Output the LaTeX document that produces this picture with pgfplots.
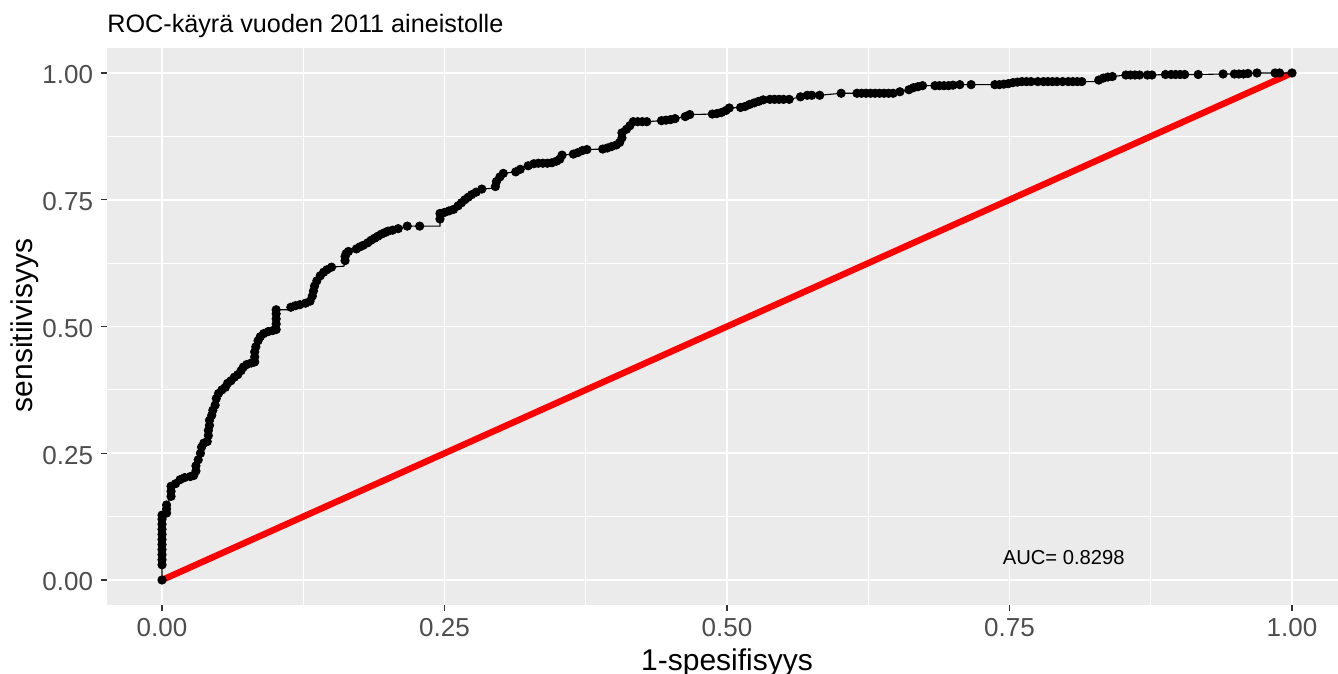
\documentclass[border=0pt]{standalone}
\usepackage{fontspec}
\setmainfont{Liberation Sans}
\usepackage{pgfplots}
\pgfplotsset{compat=1.18}
\usepackage{pgfplotstable}
\definecolor{panelbg}{HTML}{EBEBEB}
\definecolor{ticklab}{HTML}{4D4D4D}
\definecolor{tickcol}{HTML}{333333}
\pgfplotstableread{
x y m
0 0 1
0 0.03 1
0 0.04 1
0 0.05 1
0 0.06 1
0 0.07 1
0 0.08 1
0 0.09 1
0 0.10 1
0 0.11 1
0 0.12 1
0 0.128 1
0.004 0.132 1
0.004 0.14 1
0.004 0.148 1
0.008 0.165 1
0.008 0.175 1
0.008 0.185 1
0.012 0.19 1
0.016 0.198 1
0.020 0.202 1
0.025 0.204 1
0.028 0.206 1
0.030 0.215 1
0.030 0.225 1
0.032 0.237 1
0.034 0.250 1
0.035 0.262 1
0.037 0.270 1
0.040 0.273 1
0.041 0.285 1
0.041 0.295 1
0.042 0.305 1
0.042 0.315 1
0.044 0.325 1
0.045 0.335 1
0.047 0.345 1
0.048 0.358 1
0.050 0.368 1
0.053 0.375 1
0.056 0.380 1
0.058 0.388 1
0.061 0.393 1
0.064 0.400 1
0.067 0.405 1
0.070 0.413 1
0.072 0.420 1
0.075 0.425 1
0.079 0.428 1
0.082 0.430 1
0.082 0.440 1
0.082 0.450 1
0.083 0.460 1
0.085 0.472 1
0.087 0.480 1
0.090 0.486 1
0.094 0.490 1
0.098 0.492 1
0.101 0.494 1
0.101 0.505 1
0.101 0.515 1
0.101 0.525 1
0.101 0.533 1
0.114 0.533 0
0.114 0.538 1
0.118 0.541 1
0.122 0.543 1
0.127 0.546 1
0.131 0.550 1
0.133 0.560 1
0.134 0.570 1
0.135 0.580 1
0.137 0.590 1
0.140 0.600 1
0.143 0.607 1
0.146 0.612 1
0.150 0.617 1
0.161 0.619 0
0.162 0.630 1
0.162 0.638 1
0.163 0.644 1
0.165 0.648 1
0.172 0.653 1
0.175 0.657 1
0.178 0.660 1
0.182 0.665 1
0.185 0.670 1
0.188 0.674 1
0.191 0.678 1
0.194 0.682 1
0.197 0.685 1
0.200 0.688 1
0.204 0.690 1
0.209 0.693 1
0.217 0.698 1
0.228 0.698 1
0.246 0.698 0
0.246 0.712 1
0.246 0.723 1
0.250 0.725 1
0.254 0.728 1
0.258 0.731 1
0.262 0.738 1
0.265 0.744 1
0.268 0.750 1
0.271 0.755 1
0.274 0.760 1
0.278 0.765 1
0.283 0.771 1
0.294 0.773 0
0.295 0.776 1
0.296 0.786 1
0.299 0.795 1
0.302 0.802 1
0.313 0.805 1
0.317 0.810 1
0.324 0.817 1
0.329 0.821 1
0.333 0.822 1
0.337 0.822 1
0.341 0.822 1
0.345 0.823 1
0.349 0.826 1
0.352 0.830 1
0.354 0.838 1
0.364 0.840 1
0.368 0.843 1
0.372 0.847 1
0.376 0.849 1
0.390 0.850 1
0.394 0.852 1
0.398 0.855 1
0.402 0.858 1
0.405 0.863 1
0.407 0.872 1
0.407 0.882 1
0.411 0.889 1
0.414 0.896 1
0.417 0.904 1
0.421 0.904 1
0.425 0.904 1
0.429 0.904 1
0.442 0.906 1
0.446 0.907 1
0.450 0.908 1
0.454 0.910 1
0.463 0.914 1
0.467 0.918 1
0.487 0.919 1
0.491 0.920 1
0.495 0.922 1
0.499 0.926 1
0.502 0.931 1
0.512 0.932 1
0.516 0.934 1
0.520 0.938 1
0.524 0.941 1
0.528 0.944 1
0.532 0.947 1
0.538 0.948 1
0.542 0.948 1
0.546 0.948 1
0.550 0.948 1
0.555 0.948 1
0.565 0.953 1
0.571 0.956 1
0.575 0.956 1
0.582 0.956 1
0.601 0.960 1
0.615 0.960 1
0.619 0.960 1
0.623 0.960 1
0.627 0.960 1
0.631 0.960 1
0.635 0.960 1
0.639 0.960 1
0.643 0.960 1
0.647 0.960 1
0.653 0.963 1
0.661 0.967 1
0.665 0.971 1
0.669 0.973 1
0.673 0.975 1
0.684 0.975 1
0.688 0.975 1
0.692 0.975 1
0.696 0.975 1
0.700 0.976 1
0.706 0.977 1
0.716 0.977 1
0.737 0.977 1
0.741 0.977 1
0.745 0.978 1
0.749 0.979 1
0.753 0.981 1
0.757 0.982 1
0.761 0.983 1
0.765 0.983 1
0.769 0.983 1
0.775 0.983 1
0.780 0.983 1
0.784 0.983 1
0.788 0.983 1
0.792 0.983 1
0.797 0.983 1
0.802 0.983 1
0.806 0.983 1
0.810 0.983 1
0.814 0.983 1
0.828 0.983 0
0.829 0.986 1
0.833 0.990 1
0.837 0.992 1
0.841 0.993 1
0.853 0.996 1
0.857 0.996 1
0.861 0.996 1
0.865 0.996 1
0.872 0.996 1
0.876 0.996 1
0.888 0.997 1
0.893 0.997 1
0.897 0.997 1
0.901 0.997 1
0.905 0.997 1
0.917 0.997 1
0.939 0.998 1
0.949 0.998 1
0.953 0.998 1
0.957 0.998 1
0.961 0.999 1
0.969 1.000 1
0.985 1.000 1
0.989 1.000 1
1.000 1.000 1
}\roc
\begin{document}
\begin{tikzpicture}[x=1pt,y=1pt]
\useasboundingbox (0,0) rectangle (669,337);
\begin{axis}[
  at={(53.5pt,34.5pt)}, anchor=south west,
  scale only axis, width=615.5pt, height=278.5pt,
  xmin=-0.0487, xmax=1.0407, ymin=-0.0493, ymax=1.0493,
  axis background/.style={fill=panelbg},
  axis line style={draw=none},
  xtick={0,0.25,0.5,0.75,1}, ytick={0,0.25,0.5,0.75,1},
  minor xtick={0.125,0.375,0.625,0.875}, minor ytick={0.125,0.375,0.625,0.875},
  grid=both,
  major grid style={white, line width=0.9pt},
  minor grid style={white, line width=0.45pt},
  tick align=outside, major tick length=2.8pt, minor tick length=0pt,
  tick style={tickcol, line width=0.55pt},
  xtick pos=bottom, ytick pos=left,
  /pgf/number format/.cd, fixed, fixed zerofill, precision=2, assume math mode=true,
  /pgfplots/.cd,
  xticklabel style={font=\fontsize{13}{16}\selectfont, text=ticklab, anchor=north, inner sep=0pt, yshift=-3.85pt},
  yticklabel style={font=\fontsize{13}{16}\selectfont, text=ticklab, anchor=east, inner sep=0pt, xshift=-4pt, yshift=-1pt},
  xlabel={1-spesifisyys}, ylabel={sensitiivisyys},
  xlabel style={font=\fontsize{15}{18}\selectfont, at={(axis description cs:0.5037,-0.1167)}, anchor=base},
  ylabel style={font=\fontsize{15}{18}\selectfont, at={(axis description cs:-0.0602,0.5018)}, anchor=base},
  clip=true,
]
\addplot[red, line width=3.2pt] coordinates {(0,0) (1,1)};
\addplot[black, line width=0.55pt, no marks] table[x=x,y=y] {\roc};
\addplot[only marks, mark=*, mark size=2.1pt, mark options={draw=black, fill=black},
  restrict expr to domain={\thisrow{m}}{0.5:1.5}] table[x=x,y=y] {\roc};
\node[font=\fontsize{10.1}{12}\selectfont, anchor=center, inner sep=0pt] at (axis cs:0.798,0.045) {AUC= 0.8298};
\end{axis}
\node[font=\fontsize{12.6}{15}\selectfont, anchor=base west, inner sep=0pt] at (53.5,320.5) {ROC-käyrä vuoden 2011 aineistolle};
\end{tikzpicture}
\end{document}
